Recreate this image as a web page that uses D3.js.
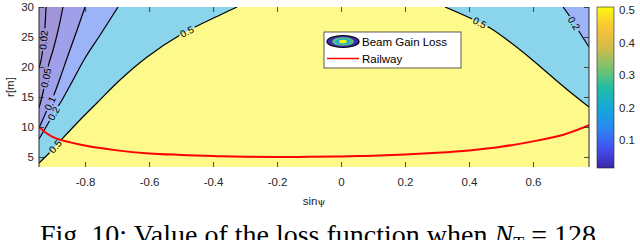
<!DOCTYPE html>
<html>
<head>
<meta charset="utf-8">
<script src="https://cdn.jsdelivr.net/npm/d3@7"></script>
<style>
  body { margin: 0; background: #fff; }
  svg { display: block; font-family: "Liberation Sans", Arial, Helvetica, sans-serif; }
</style>
</head>
<body>
<div id="chart"></div>
<script>
// axis ranges and ticks
const sinDomain = [-0.944, 0.775];
const rDomain = [3.33, 30];
const lossDomain = [0.014, 0.509];
const xTicks = [-0.8, -0.6, -0.4, -0.2, 0, 0.2, 0.4, 0.6];
const yTicks = [5, 10, 15, 20, 25, 30];
const cbarTicks = [0.1, 0.2, 0.3, 0.4, 0.5];

// contour levels, each line is [sin psi, r]
const levels = [0.02, 0.05, 0.1, 0.2, 0.5];
const left002 = [[-0.922, 30], [-0.925, 27], [-0.931, 23.5], [-0.938, 21], [-0.944, 19.8]];
const left005 = [[-0.869, 30], [-0.884, 26.17], [-0.9, 22.83], [-0.9125, 20.67], [-0.922, 18.17], [-0.931, 15.83], [-0.944, 13.17]];
const left01 = [[-0.8, 30], [-0.825, 26.17], [-0.853, 22], [-0.878, 18.17], [-0.9, 15], [-0.919, 12.83], [-0.934, 11], [-0.944, 9.83]];
const left02 = [[-0.697, 30], [-0.753, 25.33], [-0.8, 21.5], [-0.8375, 17.83], [-0.872, 14.5], [-0.897, 12.33], [-0.922, 10], [-0.944, 8]];
const left05 = [[-0.325, 30], [-0.378, 28.67], [-0.503, 25.33], [-0.606, 21.67], [-0.691, 17.83], [-0.763, 14], [-0.816, 11.17], [-0.869, 8.17], [-0.909, 5.83], [-0.944, 4]];
const right05 = [[0.325, 30], [0.403, 28.17], [0.466, 26.5], [0.528, 24.17], [0.591, 21.5], [0.653, 18.67], [0.716, 15.83], [0.775, 13.33]];
const right02 = [[0.694, 30], [0.716, 28.33], [0.741, 26.17], [0.775, 23.33]];

// contour label spots [level, sin psi, r]
const contourLabels = [
  [0.02, -0.928, 24.5], [0.05, -0.925, 18.2], [0.1, -0.912, 14], [0.2, -0.89, 12],
  [0.5, -0.894, 6.8], [0.5, -0.481, 25.8], [0.5, 0.428, 26.8], [0.2, 0.725, 27.2]
];

// railway [sin psi, r]
const railSin = [-0.944, -0.9, -0.8, -0.7, -0.6, -0.5, -0.4, -0.3, -0.2, -0.1, 0, 0.1, 0.2, 0.3, 0.4, 0.5, 0.6, 0.7, 0.775];
const railR = [10, 8.3, 6.9, 6.1, 5.6, 5.35, 5.15, 5.05, 5.0, 5.02, 5.1, 5.2, 5.4, 5.7, 6.1, 6.7, 7.6, 8.8, 10.3];

// parula-like colormap
const parula = ["#3e26a8", "#4352f3", "#2a88ee", "#14a9d8", "#23bca4", "#7dc36a", "#d4bb4a", "#fdc235", "#f9fb0e"];

const W = 640, H = 240;
const plot = { left: 39, right: 589, top: 7, bottom: 167 };

const svg = d3.select("#chart").append("svg")
  .attr("width", W)
  .attr("height", H);

const x = d3.scaleLinear().domain(sinDomain).range([plot.left, plot.right]);
const y = d3.scaleLinear().domain(rDomain).range([plot.bottom, plot.top]);
const cmap = d3.piecewise(d3.interpolateRgb, parula);
const cNorm = d3.scaleLinear().domain(lossDomain).range([0, 1]).clamp(true);

// contourf with 50% face alpha on white
const fillFor = v => d3.interpolateRgb(cmap(cNorm(v)), "#ffffff")(0.5);

const defs = svg.append("defs");
defs.append("clipPath").attr("id", "plot-clip")
  .append("rect")
  .attr("x", plot.left).attr("y", plot.top)
  .attr("width", plot.right - plot.left).attr("height", plot.bottom - plot.top);

const g = svg.append("g").attr("clip-path", "url(#plot-clip)");

// top band >= 0.5
g.append("rect")
  .attr("x", plot.left).attr("y", plot.top)
  .attr("width", plot.right - plot.left).attr("height", plot.bottom - plot.top)
  .attr("fill", fillFor(0.5));

const contours = [
  { level: 0.5, pts: left05, corner: [sinDomain[0], rDomain[1]] },
  { level: 0.2, pts: left02, corner: [sinDomain[0], rDomain[1]] },
  { level: 0.1, pts: left01, corner: [sinDomain[0], rDomain[1]] },
  { level: 0.05, pts: left005, corner: [sinDomain[0], rDomain[1]] },
  { level: 0.02, pts: left002, corner: [sinDomain[0], rDomain[1]] },
  { level: 0.5, pts: right05, corner: [sinDomain[1], rDomain[1]] },
  { level: 0.2, pts: right02, corner: [sinDomain[1], rDomain[1]] }
];

const curve = d3.line()
  .x(d => x(d[0]))
  .y(d => y(d[1]))
  .curve(d3.curveCatmullRom);

// region below a level gets the colour of the next lower level
const lowerLevel = lvl => {
  const i = levels.indexOf(lvl);
  return i > 0 ? levels[i - 1] : lossDomain[0];
};

g.selectAll(".band")
  .data(contours)
  .join("path")
  .attr("class", "band")
  .attr("d", d => curve(d.pts) + `L${x(d.corner[0])},${y(d.corner[1])}Z`)
  .attr("fill", d => fillFor(lowerLevel(d.level)));

// contour lines with gaps for labels
const mask = defs.append("mask").attr("id", "label-gaps")
  .attr("maskUnits", "userSpaceOnUse")
  .attr("x", 0).attr("y", 0).attr("width", W).attr("height", H);
mask.append("rect").attr("width", W).attr("height", H).attr("fill", "#fff");

g.append("g")
  .attr("mask", "url(#label-gaps)")
  .selectAll(".cline")
  .data(contours)
  .join("path")
  .attr("class", "cline")
  .attr("d", d => curve(d.pts))
  .attr("fill", "none")
  .attr("stroke", "#000")
  .attr("stroke-width", 1.2);

// place each label on its nearest contour segment
function nearestOnLines(lines, px, py) {
  let best = null;
  lines.forEach(pts => {
    for (let i = 0; i < pts.length - 1; i++) {
      const ax = x(pts[i][0]), ay = y(pts[i][1]);
      const bx = x(pts[i + 1][0]), by = y(pts[i + 1][1]);
      const dx = bx - ax, dy = by - ay;
      let t = ((px - ax) * dx + (py - ay) * dy) / (dx * dx + dy * dy);
      t = Math.max(0, Math.min(1, t));
      const qx = ax + t * dx, qy = ay + t * dy;
      const dist = Math.hypot(px - qx, py - qy);
      if (!best || dist < best.dist) {
        let ang = Math.atan2(dy, dx) * 180 / Math.PI;
        if (ang > 90) ang -= 180;
        if (ang <= -90) ang += 180;
        best = { qx, qy, ang, dist };
      }
    }
  });
  return best;
}

const labelG = svg.append("g");
contourLabels.forEach(([lvl, s, r]) => {
  const lines = contours.filter(c => c.level === lvl).map(c => c.pts);
  const p = nearestOnLines(lines, x(s), y(r));
  const tf = `translate(${p.qx},${p.qy}) rotate(${p.ang})`;
  const t = labelG.append("text")
    .attr("transform", tf)
    .attr("text-anchor", "middle")
    .attr("dominant-baseline", "central")
    .style("font-size", "10px")
    .attr("fill", "#000")
    .text(String(lvl));
  const bb = t.node().getBBox();
  mask.append("rect")
    .attr("transform", tf)
    .attr("x", bb.x - 1.5).attr("y", bb.y)
    .attr("width", bb.width + 3).attr("height", bb.height)
    .attr("fill", "#000");
});

// railway
g.append("path")
  .datum(railSin.map((s, i) => [s, railR[i]]))
  .attr("d", curve)
  .attr("fill", "none")
  .attr("stroke", "#ff0000")
  .attr("stroke-width", 2);

// axes, ticks pointing inward
const fmt = d => String(d);
const axisStyle = sel => {
  sel.select(".domain").remove();
  sel.selectAll(".tick line").attr("stroke", "#262626").attr("stroke-width", 0.8);
  sel.selectAll("text").style("font-size", "11.5px").attr("fill", "#262626");
};

svg.append("g")
  .attr("transform", `translate(0,${plot.bottom})`)
  .call(d3.axisBottom(x).tickValues(xTicks).tickFormat(fmt).tickSizeInner(-5).tickSizeOuter(0).tickPadding(11))
  .call(axisStyle);

svg.append("g")
  .attr("transform", `translate(0,${plot.top})`)
  .call(d3.axisTop(x).tickValues(xTicks).tickFormat("").tickSizeInner(-5).tickSizeOuter(0))
  .call(axisStyle);

svg.append("g")
  .attr("transform", `translate(${plot.left},0)`)
  .call(d3.axisLeft(y).tickValues(yTicks).tickFormat(fmt).tickSizeInner(-5).tickSizeOuter(0).tickPadding(5))
  .call(axisStyle);

svg.append("g")
  .attr("transform", `translate(${plot.right},0)`)
  .call(d3.axisRight(y).tickValues(yTicks).tickFormat("").tickSizeInner(-5).tickSizeOuter(0))
  .call(axisStyle);

// left / right box edges
[plot.left, plot.right].forEach(px => {
  svg.append("line")
    .attr("x1", px).attr("x2", px)
    .attr("y1", plot.top).attr("y2", plot.bottom)
    .attr("stroke", "#262626").attr("stroke-width", 1);
});

// axis labels
svg.append("text")
  .attr("x", (plot.left + plot.right) / 2)
  .attr("y", 205)
  .attr("text-anchor", "middle")
  .style("font-size", "11.5px")
  .attr("fill", "#262626")
  .text("sin")
  .append("tspan")
  .style("font-family", "'DejaVu Serif', serif")
  .style("font-size", "10px")
  .text("ψ");

svg.append("text")
  .attr("transform", `translate(14,${(plot.top + plot.bottom) / 2}) rotate(-90)`)
  .attr("text-anchor", "middle")
  .style("font-size", "11.5px")
  .attr("fill", "#262626")
  .text("r[m]");

// colorbar
const cb = { x: 597, w: 17 };
const cy = d3.scaleLinear().domain(lossDomain).range([plot.bottom + 1, plot.top]);
const grad = defs.append("linearGradient")
  .attr("id", "cbar-grad")
  .attr("x1", "0%").attr("x2", "0%")
  .attr("y1", "100%").attr("y2", "0%");
d3.range(0, 1.0001, 0.05).forEach(t => {
  grad.append("stop").attr("offset", `${t * 100}%`).attr("stop-color", cmap(t));
});
svg.append("rect")
  .attr("x", cb.x).attr("y", cy(lossDomain[1]))
  .attr("width", cb.w).attr("height", cy(lossDomain[0]) - cy(lossDomain[1]))
  .attr("fill", "url(#cbar-grad)")
  .attr("stroke", "#262626").attr("stroke-width", 0.6);

svg.append("g")
  .attr("transform", `translate(${cb.x + cb.w},0)`)
  .call(d3.axisRight(cy).tickValues(cbarTicks).tickFormat(fmt).tickSizeInner(0).tickSizeOuter(0).tickPadding(5))
  .call(axisStyle);

// legend
const lg = svg.append("g").attr("transform", "translate(324,32)");
lg.append("rect")
  .attr("width", 137).attr("height", 36)
  .attr("fill", "#fff")
  .attr("stroke", "#333").attr("stroke-width", 0.8);
const icon = lg.append("g").attr("transform", "translate(19,9.5)");
[[16, 6, 0.02], [11, 4.3, 0.3], [7.5, 3, 0.22], [4, 1.8, 0.5]].forEach(([rx, ry, v], i) => {
  icon.append("ellipse")
    .attr("rx", rx).attr("ry", ry)
    .attr("fill", cmap(cNorm(v)))
    .attr("stroke", i === 0 ? "#000" : "none")
    .attr("stroke-width", 1.2);
});
lg.append("text")
  .attr("x", 38).attr("y", 13.5)
  .style("font-size", "11.5px")
  .attr("fill", "#000")
  .text("Beam Gain Loss");
lg.append("line")
  .attr("x1", 3).attr("x2", 35)
  .attr("y1", 26.5).attr("y2", 26.5)
  .attr("stroke", "#ff0000").attr("stroke-width", 1.5);
lg.append("text")
  .attr("x", 38).attr("y", 31)
  .style("font-size", "11.5px")
  .attr("fill", "#000")
  .text("Railway");

// caption, cut off by the bottom edge as in the source
const cap = svg.append("text")
  .attr("x", 40).attr("y", 244)
  .style("font-family", "'Liberation Serif', 'Times New Roman', serif")
  .style("font-size", "28px")
  .attr("fill", "#000")
  .text("Fig. 10: Value of the loss function when ");
cap.append("tspan").style("font-style", "italic").text("N");
cap.append("tspan").attr("dy", 6).style("font-size", "18px").text("T");
cap.append("tspan").attr("dy", -6).text(" = 128");
</script>
</body>
</html>
